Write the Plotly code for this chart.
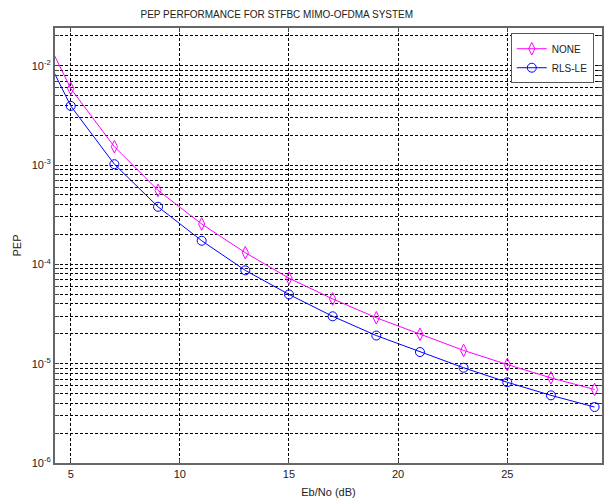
import numpy as np
import plotly.graph_objects as go

ebno = [4, 5, 7, 9, 11, 13, 15, 17, 19, 21, 23, 25, 27, 29]
pep_none = [1.65e-2, 5.9e-3, 1.53e-3, 5.56e-4, 2.55e-4, 1.31e-4, 7.26e-5, 4.49e-5,
            2.9e-5, 1.98e-5, 1.36e-5, 9.8e-6, 7.2e-6, 5.5e-6]
pep_rls = [1.09e-2, 3.94e-3, 1.02e-3, 3.8e-4, 1.73e-4, 8.7e-5, 4.98e-5, 3.0e-5,
           1.92e-5, 1.31e-5, 9.1e-6, 6.5e-6, 4.8e-6, 3.66e-6]
x_ticks = [5, 10, 15, 20, 25]
decades = [-6, -5, -4, -3, -2]

yvals, ytext = [], []
for d in decades:
    for m in range(1, 10):
        v = m * 10.0 ** d
        if v > 2.5e-2:
            continue
        yvals.append(v)
        ytext.append(f"10<sup>{d}</sup>" if m == 1 else "")

font = dict(family="Liberation Sans, Arial, sans-serif", size=11, color="#222222")

fig = go.Figure()
fig.add_trace(go.Scatter(x=ebno, y=pep_none, name="NONE", mode="lines+markers",
                         line=dict(color="#FF00FF", width=1),
                         marker=dict(symbol="diamond-tall-open", size=9, color="#FF00FF", line=dict(width=1))))
fig.add_trace(go.Scatter(x=ebno, y=pep_rls, name="RLS-LE", mode="lines+markers",
                         line=dict(color="#0000FF", width=1),
                         marker=dict(symbol="circle-open", size=9, color="#0000FF", line=dict(width=1))))

fig.update_layout(
    width=611, height=504,
    margin=dict(l=55, r=7, t=28, b=37),
    paper_bgcolor="white", plot_bgcolor="white",
    font=font,
    title=dict(text="PEP PERFORMANCE FOR STFBC MIMO-OFDMA SYSTEM", x=0.453, xanchor="center",
               y=1 - 14 / 504, yanchor="middle", font=dict(size=10, color="#222222")),
    showlegend=True,
    legend=dict(x=0.985, y=0.988, xanchor="right", yanchor="top",
                bgcolor="white", bordercolor="#555555", borderwidth=1,
                font=dict(size=10, color="#222222"), tracegroupgap=0,
                itemwidth=30),
)
fig.update_xaxes(
    range=[4.28, 29.34], tickvals=x_ticks, ticks="inside", ticklen=4,
    showline=True, linecolor="#666666", linewidth=2, mirror="ticks",
    showgrid=True, gridcolor="#000000", gridwidth=1, griddash="3px,2px",
    zeroline=False, tickfont=dict(size=11),
    title=dict(text="Eb/No (dB)", standoff=9, font=dict(size=11)),
)
fig.update_yaxes(
    type="log", range=[-6, -1.62], tickvals=yvals, ticktext=ytext,
    ticks="inside", ticklen=4,
    showline=True, linecolor="#666666", linewidth=2, mirror="ticks",
    showgrid=True, gridcolor="#000000", gridwidth=1, griddash="3px,2px",
    zeroline=False, tickfont=dict(size=11),
    title=dict(text="PEP", standoff=8, font=dict(size=11)),
)

fig.write_html("out.html", config={"displayModeBar": False},
               post_script="document.body.style.margin='0';")
